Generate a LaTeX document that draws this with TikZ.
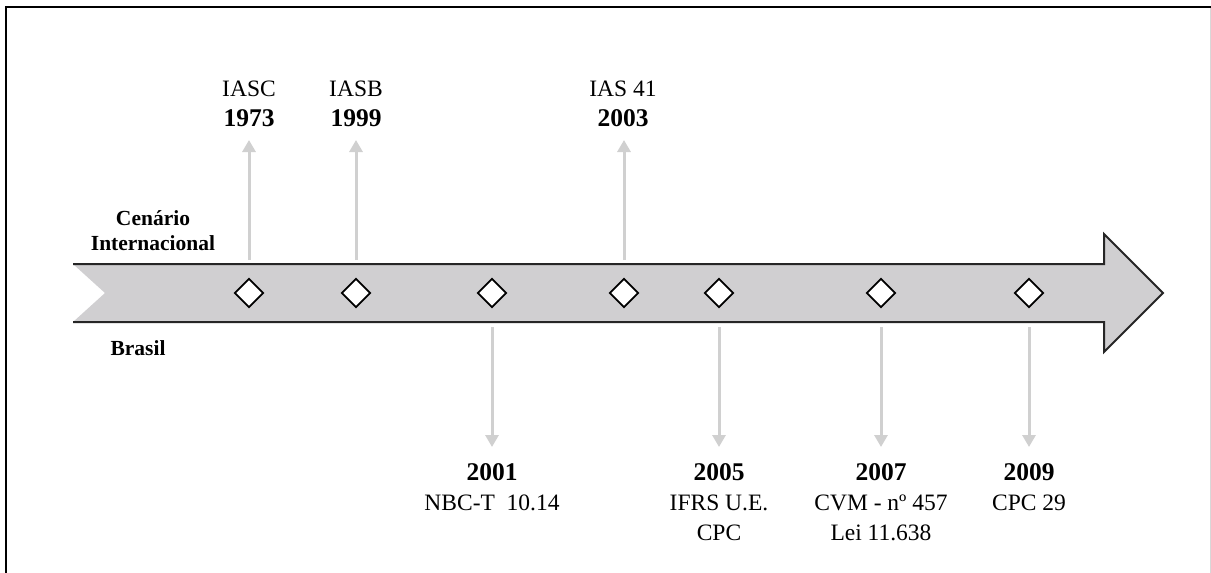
\documentclass[tikz,border=0pt]{standalone}
\usepackage{fontspec}
\setmainfont{Liberation Serif}
\usetikzlibrary{arrows.meta,shapes.geometric}
\definecolor{bandgray}{HTML}{D0CFD1}
\definecolor{linkgray}{HTML}{D0D0D0}
\definecolor{edgegray}{HTML}{D8D8D8}
\tikzset{
  mark box/.style={draw=black, fill=white, line width=1.8pt, diamond, inner sep=0pt,
                   minimum width=29pt, minimum height=29pt},
  event label/.style={align=center, inner sep=0pt,
                      font=\fontsize{23.5}{30}\selectfont},
  side label/.style={align=center, inner sep=0pt,
                     font=\fontsize{21.5}{25}\selectfont\bfseries},
  link arrow/.style={draw=linkgray, line width=3pt,
                     -{Triangle[width=13pt,length=12pt]}},
}
\newcommand{\yr}[1]{{\fontsize{25.5}{30}\selectfont\bfseries #1}}
\begin{document}
\begin{tikzpicture}[x=1pt,y=-1pt]
\useasboundingbox (0,0) rectangle (1211,573);
\fill[white] (0,0) rectangle (1211,573);
% frame
\draw[line width=2.5pt, black] (6,573) -- (6,7) -- (1211,7);
\draw[line width=1pt, edgegray] (1210,8) -- (1210,573);
% main arrow band
\fill[bandgray] (73,264) -- (1104,264) -- (1104,234) -- (1163,293) -- (1104,352)
  -- (1104,322) -- (73,322) -- (105,293) -- cycle;
\draw[line width=2pt, black!85, line join=miter] (73,264) -- (1104,264) -- (1104,234) -- (1163,293)
  -- (1104,352) -- (1104,322) -- (73,322);
% diamonds
\node[mark box] (d1) at (249,293) {};
\node[mark box] (d2) at (356,293) {};
\node[mark box] (d3) at (492,293) {};
\node[mark box] (d4) at (624,293) {};
\node[mark box] (d5) at (719,293) {};
\node[mark box] (d6) at (881,293) {};
\node[mark box] (d7) at (1029,293) {};
% side labels
\node[side label, anchor=base] (cen) at (153,250) {Cenário\\Internacional};
\node[side label, anchor=base] (bra) at (138,355) {Brasil};
% top labels
\node[event label, anchor=south] (t1) at (249,127) {IASC\\\yr{1973}};
\node[event label, anchor=south] (t2) at (356,127) {IASB\\\yr{1999}};
\node[event label, anchor=south] (t4) at (623,127) {IAS 41\\\yr{2003}};
% bottom labels
\node[event label, anchor=north] (b3) at (492,463) {\yr{2001}\\NBC-T\ \ 10.14};
\node[event label, anchor=north] (b5) at (719,463) {\yr{2005}\\IFRS U.E.\\CPC};
\node[event label, anchor=north] (b6) at (881,463) {\yr{2007}\\CVM - nº 457\\Lei 11.638};
\node[event label, anchor=north] (b7) at (1029,463) {\yr{2009}\\CPC 29};
% connector start points on band edges
\coordinate (u1) at (249,260);
\coordinate (u2) at (356,260);
\coordinate (u4) at (624,260);
\coordinate (w3) at (492,327);
\coordinate (w5) at (719,327);
\coordinate (w6) at (881,327);
\coordinate (w7) at (1029,327);
% up arrows
\draw[link arrow] (u1) -- (u1 |- 0,140);
\draw[link arrow] (u2) -- (u2 |- 0,140);
\draw[link arrow] (u4) -- (u4 |- 0,140);
% down arrows
\draw[link arrow] (w3) -- (w3 |- 0,447);
\draw[link arrow] (w5) -- (w5 |- 0,447);
\draw[link arrow] (w6) -- (w6 |- 0,447);
\draw[link arrow] (w7) -- (w7 |- 0,447);
\end{tikzpicture}
\end{document}
